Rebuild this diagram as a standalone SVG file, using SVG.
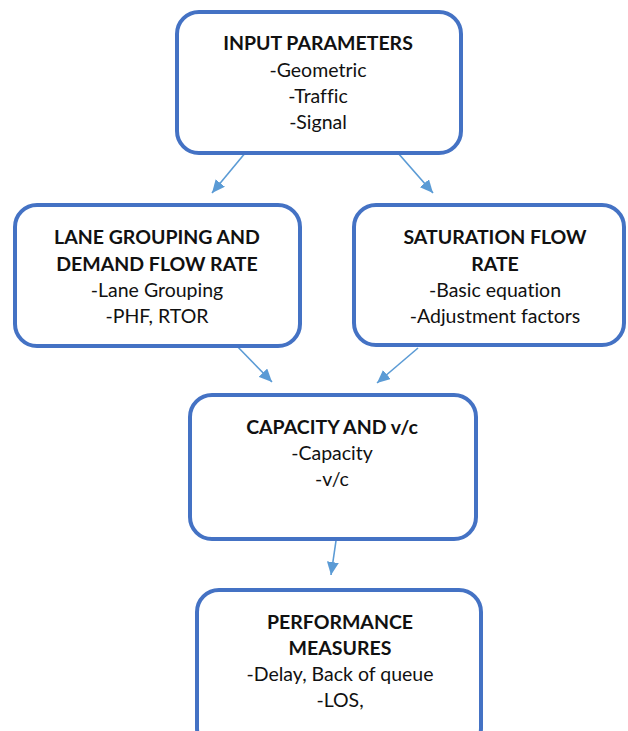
<svg xmlns="http://www.w3.org/2000/svg" width="628" height="731" viewBox="0 0 628 731">
  <style>
    .box { fill: #ffffff; stroke: #4472C4; stroke-width: 4; }
    .t { font-family: Lato, "Open Sans", "Liberation Sans", sans-serif; font-size: 19.5px; fill: #111111; text-anchor: middle; font-variant-ligatures: none; }
    .h { font-weight: bold; }
    .link { stroke: #5B9BD5; stroke-width: 1.6; fill: none; marker-end: url(#arrow); }
  </style>
  <defs>
    <marker id="arrow" markerUnits="userSpaceOnUse" markerWidth="14" markerHeight="12" refX="13" refY="6" orient="auto">
      <path d="M0,0 L13,6 L0,12 Z" fill="#5B9BD5"/>
    </marker>
  </defs>
  <rect width="628" height="731" fill="#ffffff"/>

  <!-- flow connectors -->
  <g id="connectors">
    <line class="link" x1="246" y1="152" x2="212" y2="193"/>
    <line class="link" x1="398" y1="153" x2="433" y2="193"/>
    <line class="link" x1="233" y1="342" x2="272" y2="382"/>
    <line class="link" x1="418" y1="348" x2="377" y2="383"/>
    <line class="link" x1="338" y1="527" x2="331" y2="575"/>
  </g>

  <g id="input-parameters">
    <rect class="box" x="177" y="12" width="284" height="141" rx="22"/>
    <text class="t h" x="318" y="50">INPUT PARAMETERS</text>
    <text class="t" x="318" y="77">-Geometric</text>
    <text class="t" x="318" y="103">-Traffic</text>
    <text class="t" x="318" y="129">-Signal</text>
  </g>

  <g id="lane-grouping">
    <rect class="box" x="15" y="205" width="285" height="141" rx="22"/>
    <text class="t h" x="157" y="244">LANE GROUPING AND</text>
    <text class="t h" x="157" y="271">DEMAND FLOW RATE</text>
    <text class="t" x="157" y="297">-Lane Grouping</text>
    <text class="t" x="157" y="323">-PHF, RTOR</text>
  </g>

  <g id="saturation-flow">
    <rect class="box" x="354" y="205" width="270" height="140" rx="22"/>
    <text class="t h" x="495" y="244">SATURATION FLOW</text>
    <text class="t h" x="495" y="271">RATE</text>
    <text class="t" x="495" y="297">-Basic equation</text>
    <text class="t" x="495" y="323">-Adjustment factors</text>
  </g>

  <g id="capacity">
    <rect class="box" x="190" y="395" width="286" height="144" rx="22"/>
    <text class="t h" x="332" y="434">CAPACITY AND v/c</text>
    <text class="t" x="332" y="460">-Capacity</text>
    <text class="t" x="332" y="486">-v/c</text>
  </g>

  <g id="performance">
    <rect class="box" x="197" y="590" width="284" height="160" rx="22"/>
    <text class="t h" x="340" y="629">PERFORMANCE</text>
    <text class="t h" x="340" y="655">MEASURES</text>
    <text class="t" x="340" y="681">-Delay, Back of queue</text>
    <text class="t" x="340" y="707">-LOS,</text>
  </g>
</svg>
